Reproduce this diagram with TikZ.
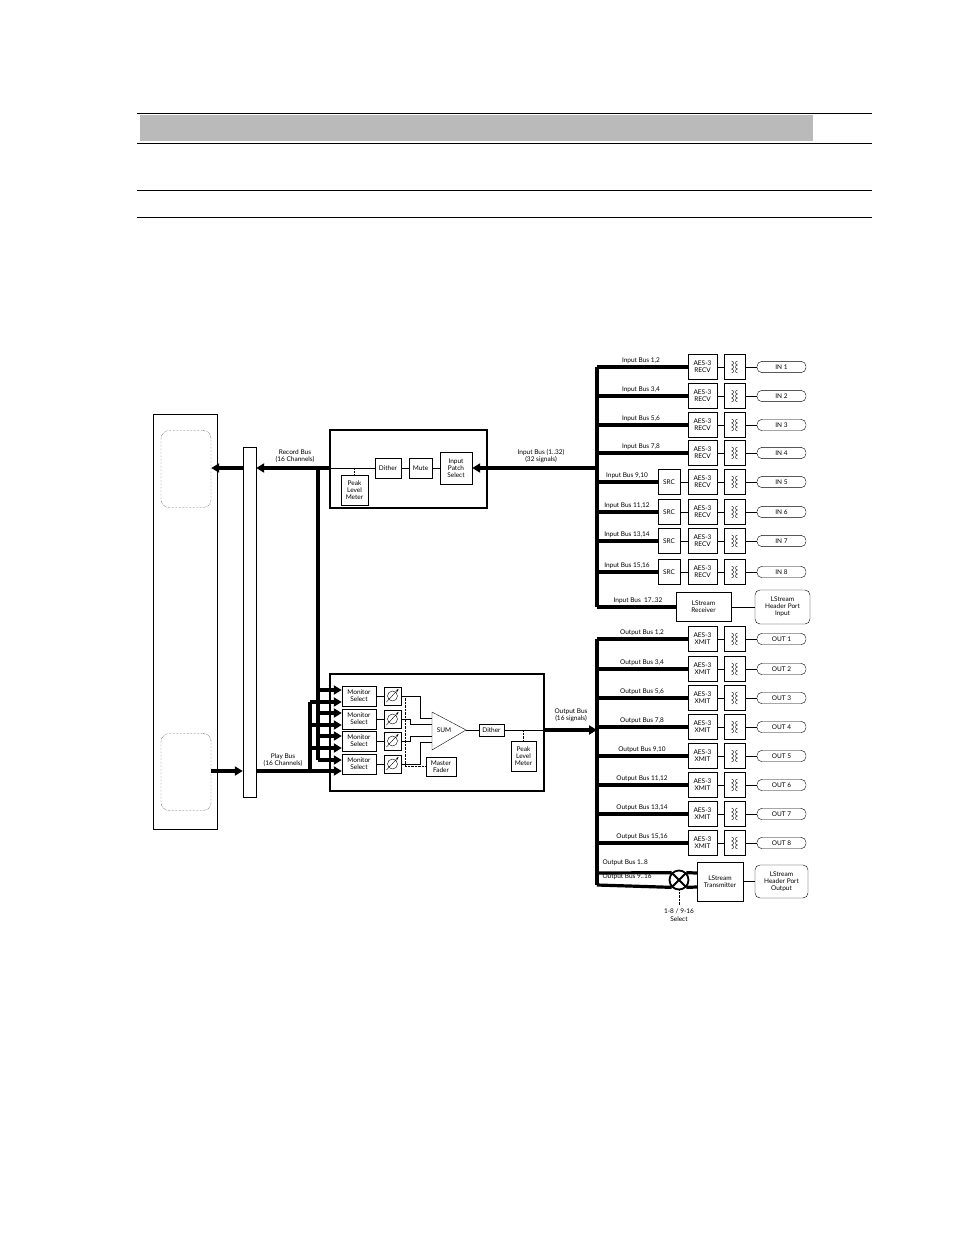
\documentclass[tikz,border=0pt]{standalone}
\usepackage{fontspec}
\setmainfont{Lato}
\usetikzlibrary{arrows.meta,positioning,calc}
\begin{document}
\begin{tikzpicture}[x=1pt,y=-1pt,
    box/.style={draw, thin, align=center, inner sep=1pt, font=\fontsize{6.5}{7}\selectfont},
    pill/.style={draw, thin, rounded corners=5pt, minimum width=49pt, minimum height=11pt, font=\fontsize{6.5}{7}\selectfont},
    lbl/.style={font=\fontsize{6.5}{7.5}\selectfont, align=center},
    bus/.style={line width=3.2pt},
    busarrow/.style={line width=3.2pt, -{Triangle[length=8pt,width=9pt]}},
    sig/.style={semithick},
    xfmr/.style={draw, thin, minimum width=21pt, minimum height=25pt}
  ]
\useasboundingbox (0,0) rectangle (954,1235);
% header rules
\fill[black!27] (140,115) rectangle (813,141);
\foreach \yy in {113,143,190,217} \draw[thin] (137,\yy) -- (872,\yy);

% host and bus bar
\node[draw, thin, minimum width=64pt, minimum height=415pt] (host) at (185,622) {};
\node[draw, densely dotted, rounded corners=8pt, minimum width=50pt, minimum height=77pt] (hostrec) at (186,469) {};
\node[draw, densely dotted, rounded corners=8pt, minimum width=50pt, minimum height=77pt] (hostplay) at (186,772) {};
\node[draw, thin, minimum width=13pt, minimum height=350pt] (bar) at (249.5,622) {};

% input processing
\node[draw, line width=1.8pt, minimum width=157pt, minimum height=78pt] (inblk) at (408.5,469) {};
\node[box, minimum width=32pt, minimum height=32pt] (patch) at (456,468) {Input\\Patch\\Select};
\node[box, minimum width=23pt, minimum height=20pt] (mute) at (420.5,468) {Mute};
\node[box, minimum width=26pt, minimum height=20pt] (dithin) at (388,468) {Dither};
\node[box, minimum width=27pt, minimum height=30pt] (peakin) at (354.5,490) {Peak\\Level\\Meter};
\coordinate (inleft) at (330,468);
\draw[sig] (patch) -- (mute) -- (dithin) -- (inleft);
\draw[densely dotted] (354.5,468) -- (peakin.north);
\draw[busarrow] (inleft) -- (bar.east |- inleft);
\draw[busarrow] (bar.west |- inleft) -- (hostrec.east |- inleft);
\node[lbl] (reclbl) at (295,456) {Record Bus\\(16 Channels)};

% output processing
\node[draw, line width=1.8pt, minimum width=214pt, minimum height=117pt] (outblk) at (437,732.5) {};
\draw[thin] (432,712) -- (466,730) -- (432,750) -- cycle;
\node[lbl] (sum) at (444,730) {SUM};
\node[box, minimum width=25pt, minimum height=12pt] (dithout) at (491.5,730) {Dither};
\node[box, minimum width=25pt, minimum height=30pt] (peakout) at (523.5,756) {Peak\\Level\\Meter};
\node[box, minimum width=30pt, minimum height=19pt] (master) at (441,766.5) {Master\\Fader};
\coordinate (sumtip) at (466,730);
\coordinate (outright) at (544,730);
\draw[sig] (sumtip) -- (dithout) -- (outright);
\draw[densely dotted] (523.5,730) -- (peakout.north);
\foreach \i/\yy/\sy/\xx in {1/696/718/420,2/719/724/410,3/741/736/410,4/764/742/420} {
  \node[box, minimum width=34pt, minimum height=20pt] (mon\i) at (359,\yy) {Monitor\\Select};
  \node[box, minimum width=17pt, minimum height=18pt] (fad\i) at (392.5,\yy) {};
  \draw[sig] (mon\i) -- (fad\i);
  \draw[thin] (fad\i.center) circle (5pt);
  \draw[thin, -{Stealth[length=3pt]}] ($(fad\i.center)+(-6,6)$) -- ($(fad\i.center)+(6,-7)$);
  \draw[sig] (fad\i.east) -| (\xx,\sy) -- (432,\sy);
}
\draw[densely dotted] (fad1.east) -- ++(4,0) |- (master.west);
\foreach \i in {2,3,4} \draw[densely dotted] (fad\i.east) -- ++(4,0);

% record and play buses into monitor selects
\coordinate (recdrop) at (318,468);
\coordinate (playjoin) at (310,771);
\draw[bus] (recdrop) -- (318,760);
\draw[bus] (310,702) -- (playjoin);
\foreach \i/\yy in {1/690,2/713,3/736,4/760} \draw[busarrow] (318,\yy) -- (mon\i.west |- 0,\yy);
\foreach \i/\yy in {1/702,2/725,3/748,4/771} \draw[busarrow] (310,\yy) -- (mon\i.west |- 0,\yy);
\draw[bus] (bar.east |- playjoin) -- (playjoin);
\draw[busarrow] (hostplay.east |- playjoin) -- (bar.west |- playjoin);
\node[lbl] (playlbl) at (283,760) {Play Bus\\(16 Channels)};

% input side
\coordinate (inbustop) at (597,367);
\coordinate (inbusbot) at (597,607);
\draw[bus] (inbustop) -- (inbusbot);
\draw[busarrow] (597,468) -- (patch.east);
\node[lbl] (inbuslbl) at (541,456) {Input Bus (1..32)\\(32 signals)};
\foreach \i/\yy/\nm in {1/367/{1,2},2/396/{3,4},3/425/{5,6},4/453/{7,8}} {
  \node[box, minimum width=29pt, minimum height=25pt] (aes\i) at (702.5,\yy) {AES-3\\RECV};
  \node[xfmr] (xf\i) at (734.5,\yy) {};
  \node[pill] (in\i) at (781.5,\yy) {IN \i};
  \draw[bus] (597,\yy) -- (aes\i.west);
  \node[lbl, above] at (641,\yy) {Input Bus \nm};
  \draw[sig] (aes\i) -- (xf\i) -- (in\i);
}
\foreach \i/\yy/\nm in {5/482/{9,10},6/512/{11,12},7/541/{13,14},8/572/{15,16}} {
  \node[box, minimum width=29pt, minimum height=25pt] (aes\i) at (702.5,\yy) {AES-3\\RECV};
  \node[box, minimum width=22pt, minimum height=25pt] (src\i) at (669,\yy) {SRC};
  \node[xfmr] (xf\i) at (734.5,\yy) {};
  \node[pill] (in\i) at (781.5,\yy) {IN \i};
  \draw[bus] (597,\yy) -- (src\i.west);
  \node[lbl, above] at (627,\yy) {Input Bus \nm};
  \draw[sig] (src\i) -- (aes\i) -- (xf\i) -- (in\i);
}
\node[box, minimum width=55pt, minimum height=29pt] (lsrx) at (703.5,607) {LStream\\Receiver};
\node[box, rounded corners=5pt, minimum width=55pt, minimum height=34pt] (lsrxport) at (782.5,607) {LStream\\Header Port\\Input};
\draw[bus] (597,607) -- (lsrx.west);
\draw[sig] (lsrx) -- (lsrxport);
\node[lbl, above] at (638,607) {Input Bus\ \ 17..32};

% output side
\coordinate (outbustop) at (597,639);
\coordinate (outbusbot) at (597,885);
\draw[bus] (outbustop) -- (outbusbot);
\draw[busarrow] (outright) -- (597,730);
\node[lbl] (outbuslbl) at (571,715) {Output Bus\\(16 signals)};
\foreach \i/\yy/\nm in {1/639/{1,2},2/669/{3,4},3/698/{5,6},4/727/{7,8},5/756/{9,10},6/785/{11,12},7/814/{13,14},8/843/{15,16}} {
  \node[box, minimum width=29pt, minimum height=25pt] (xmit\i) at (702.5,\yy) {AES-3\\XMIT};
  \node[xfmr] (oxf\i) at (734.5,\yy) {};
  \node[pill] (out\i) at (781.5,\yy) {OUT \i};
  \draw[bus] (597,\yy) -- (xmit\i.west);
  \node[lbl, above] at (642,\yy) {Output Bus \nm};
  \draw[sig] (xmit\i) -- (oxf\i) -- (out\i);
}
% transformer symbols
\foreach \n in {xf1,xf2,xf3,xf4,xf5,xf6,xf7,xf8,oxf1,oxf2,oxf3,oxf4,oxf5,oxf6,oxf7,oxf8} {
  \foreach \k in {-6,-2,2} {
    \draw[thin] ($(\n.center)+(-3,\k)$) arc[start angle=90,end angle=-90,radius=2pt];
    \draw[thin] ($(\n.center)+(3,\k)$) arc[start angle=90,end angle=270,radius=2pt];
  }
}
\node[box, minimum width=46pt, minimum height=39pt] (lstx) at (720,881.5) {LStream\\Transmitter};
\node[box, rounded corners=5pt, minimum width=53pt, minimum height=33pt] (lstxport) at (781.5,881.5) {LStream\\Header Port\\Output};
\draw[sig] (lstx) -- (lstxport);
\node[draw, line width=1.8pt, circle, minimum size=19pt, inner sep=0pt] (xsel) at (679,880) {};
\draw[line width=1.8pt] (xsel.north west) -- (xsel.south east) (xsel.north east) -- (xsel.south west);
\draw[bus] (597,873) -- (xsel.north west);
\draw[bus] (outbusbot) -- (xsel.south west);
\draw[bus] (xsel.north east) -- (lstx.west |- 0,873);
\draw[bus] (xsel.south east) -- (lstx.west |- 0,887);
\node[lbl, anchor=south west] at (599,869) {Output Bus 1..8};
\node[lbl, anchor=south west] at (599,883) {Output Bus 9..16};
\node[lbl] (sellbl) at (679,915) {1-8 / 9-16\\Select};
\draw[densely dotted] (xsel.south) -- (sellbl.north);
\end{tikzpicture}
\end{document}
